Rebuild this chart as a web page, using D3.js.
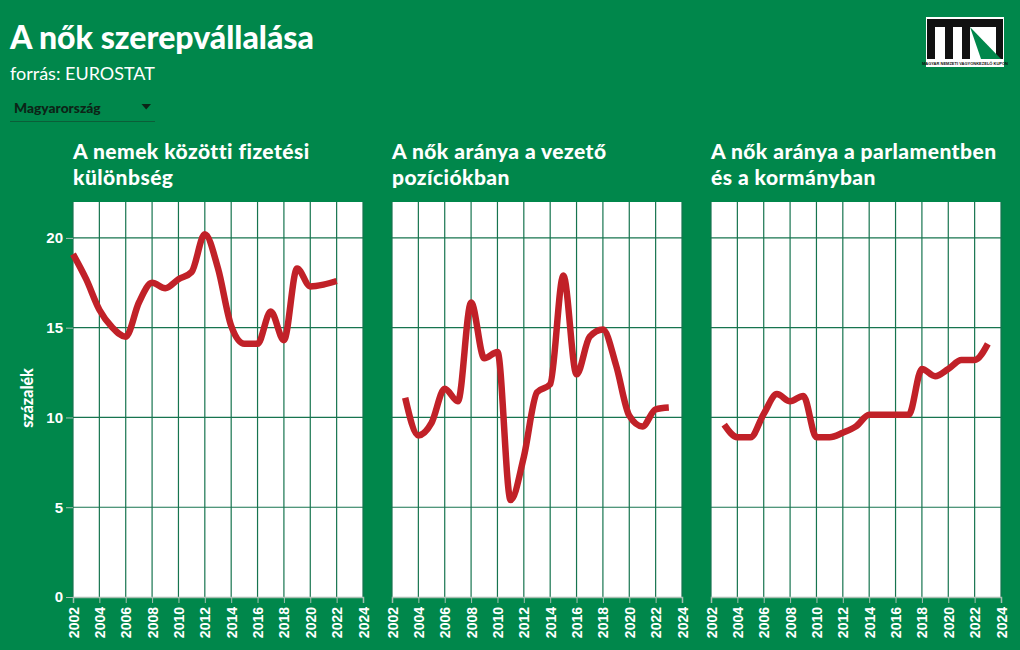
<!DOCTYPE html>
<html><head><meta charset="utf-8">
<script src="https://cdn.jsdelivr.net/npm/d3@7"></script>
<style>
html,body{margin:0;padding:0;background:#00874b;}
svg{display:block;}
</style></head>
<body>
<svg id="c" width="1020" height="650"></svg>
<script>
const panelTitles = [
  ["A nemek közötti fizetési", "különbség"],
  ["A nők aránya a vezető", "pozíciókban"],
  ["A nők aránya a parlamentben", "és a kormányban"]
];
const yearsPay = d3.range(2002, 2023);
const valuesPay = [19.1,17.7,16.0,15.0,14.5,16.4,17.5,17.2,17.7,18.1,20.2,18.3,15.1,14.1,14.1,15.9,14.3,18.3,17.3,17.4,17.6];
const yearsMgmt = d3.range(2003, 2024);
const valuesMgmt = [11.1,9.0,9.7,11.6,10.9,16.4,13.3,13.65,5.4,7.8,11.4,11.85,17.9,12.4,14.5,14.9,12.9,10.1,9.5,10.45,10.55];
const yearsParl = d3.range(2003, 2024);
const valuesParl = [9.6,8.9,8.9,10.2,11.3,10.9,11.2,8.9,8.9,9.15,9.5,10.15,10.15,10.15,10.15,12.7,12.3,12.7,13.2,13.2,14.1];
const yTicks = [0,5,10,15,20];
const xTicks = d3.range(2002, 2025, 2);

const series = [
  {years: yearsPay, values: valuesPay},
  {years: yearsMgmt, values: valuesMgmt},
  {years: yearsParl, values: valuesParl}
];

const svg = d3.select("#c");
const GRID = "#17744f", RED = "#c12128";

svg.append("text").attr("x", 10).attr("y", 49).attr("fill", "#fff")
  .attr("font-family", "Lato").attr("font-weight", 900).attr("font-size", 32)
  .text("A nők szerepvállalása");
svg.append("text").attr("x", 10).attr("y", 80).attr("fill", "#fff")
  .attr("font-family", "Lato").attr("font-size", 18)
  .text("forrás: EUROSTAT");
// dropdown
svg.append("text").attr("x", 14).attr("y", 113).attr("fill", "#0c2417")
  .attr("font-family", "Lato").attr("font-weight", 900).attr("font-size", 13.8)
  .text("Magyarország");
svg.append("path").attr("d", "M141.5,104 L151,104 L146.2,109.5 Z").attr("fill", "#0c2417");
svg.append("line").attr("x1", 10).attr("x2", 155).attr("y1", 121.5).attr("y2", 121.5)
  .attr("stroke", "#0b5e38").attr("stroke-width", 1);

// logo
const lg = svg.append("g");
lg.append("rect").attr("x", 926).attr("y", 17).attr("width", 78).attr("height", 50).attr("fill", "#fff");
lg.append("rect").attr("x", 927).attr("y", 19).attr("width", 76).attr("height", 8).attr("fill", "#111");
[[927, 8], [945, 8], [962, 8], [996, 7]].forEach(([cx, cw]) =>
  lg.append("rect").attr("x", cx).attr("y", 19).attr("width", cw).attr("height", 40).attr("fill", "#111"));
lg.append("path").attr("d", "M970,27 L1001,59 L981,59 Z").attr("fill", "#00874b");
lg.append("text").attr("x", 965).attr("y", 64.5).attr("text-anchor", "middle").attr("font-family", "Liberation Sans Narrow, Liberation Sans")
  .attr("font-size", 4).attr("font-weight", "bold").attr("fill", "#111").text("MAGYAR NEMZETI VAGYONKEZELŐ KUPON");

const W = 290, plotTop = 202, plotBottom = 597;
const lefts = [73, 392, 711];
const y = d3.scaleLinear().domain([0, 22]).range([plotBottom, plotTop]);

lefts.forEach((L, i) => {
  const x = d3.scaleLinear().domain([2002, 2024]).range([L, L + W]);
  const g = svg.append("g");
  panelTitles[i].forEach((t, k) => {
    g.append("text").attr("x", L).attr("y", 159 + k * 25.5).attr("fill", "#fff")
      .attr("font-family", "Lato").attr("font-weight", 900).attr("font-size", 21)
      .attr("letter-spacing", 0.45).text(t);
  });
  g.append("rect").attr("x", L).attr("y", plotTop).attr("width", W).attr("height", plotBottom - plotTop).attr("fill", "#fff");
  g.selectAll(".vg").data(xTicks).join("line")
    .attr("x1", d => x(d)).attr("x2", d => x(d)).attr("y1", plotTop).attr("y2", plotBottom)
    .attr("stroke", GRID).attr("stroke-width", 1.2);
  g.selectAll(".hg").data(yTicks.filter(d => d > 0)).join("line")
    .attr("x1", L).attr("x2", L + W).attr("y1", d => y(d)).attr("y2", d => y(d))
    .attr("stroke", GRID).attr("stroke-width", 1.2);
  const xa = g.append("g").attr("transform", `translate(0,${plotBottom})`)
    .call(d3.axisBottom(x).tickValues(xTicks).tickFormat(d3.format("d")).tickSize(6));
  xa.select(".domain").attr("stroke", "#a9bfb2").attr("stroke-width", 1.5);
  xa.selectAll(".tick line").attr("stroke", "#a9bfb2");
  xa.selectAll(".tick text").attr("fill", "#fff").attr("font-family", "Liberation Sans")
    .attr("font-weight", "bold").attr("font-size", 14)
    .attr("transform", "rotate(-90)").attr("text-anchor", "end")
    .attr("x", -10).attr("y", 0).attr("dy", "0.36em");
  if (i === 0) {
    const ya = g.append("g").attr("transform", `translate(${L},0)`)
      .call(d3.axisLeft(y).tickValues(yTicks).tickSize(7));
    ya.select(".domain").remove();
    ya.selectAll(".tick line").attr("stroke", "#a9bfb2");
    ya.selectAll(".tick text").attr("fill", "#fff").attr("font-family", "Liberation Sans")
      .attr("font-weight", "bold").attr("font-size", 15).attr("x", -10);
    g.append("text").attr("transform", `translate(33,398) rotate(-90)`)
      .attr("text-anchor", "middle").attr("fill", "#fff").attr("font-family", "Lato")
      .attr("font-weight", 900).attr("font-size", 16).text("százalék");
  }
  const s = series[i];
  const line = d3.line().x((d, j) => x(s.years[j])).y(d => y(d)).curve(d3.curveMonotoneX);
  g.append("path").attr("d", line(s.values)).attr("fill", "none").attr("stroke", RED)
    .attr("stroke-width", 6.5).attr("stroke-linejoin", "round").attr("stroke-linecap", "butt");
});
</script>
</body></html>
